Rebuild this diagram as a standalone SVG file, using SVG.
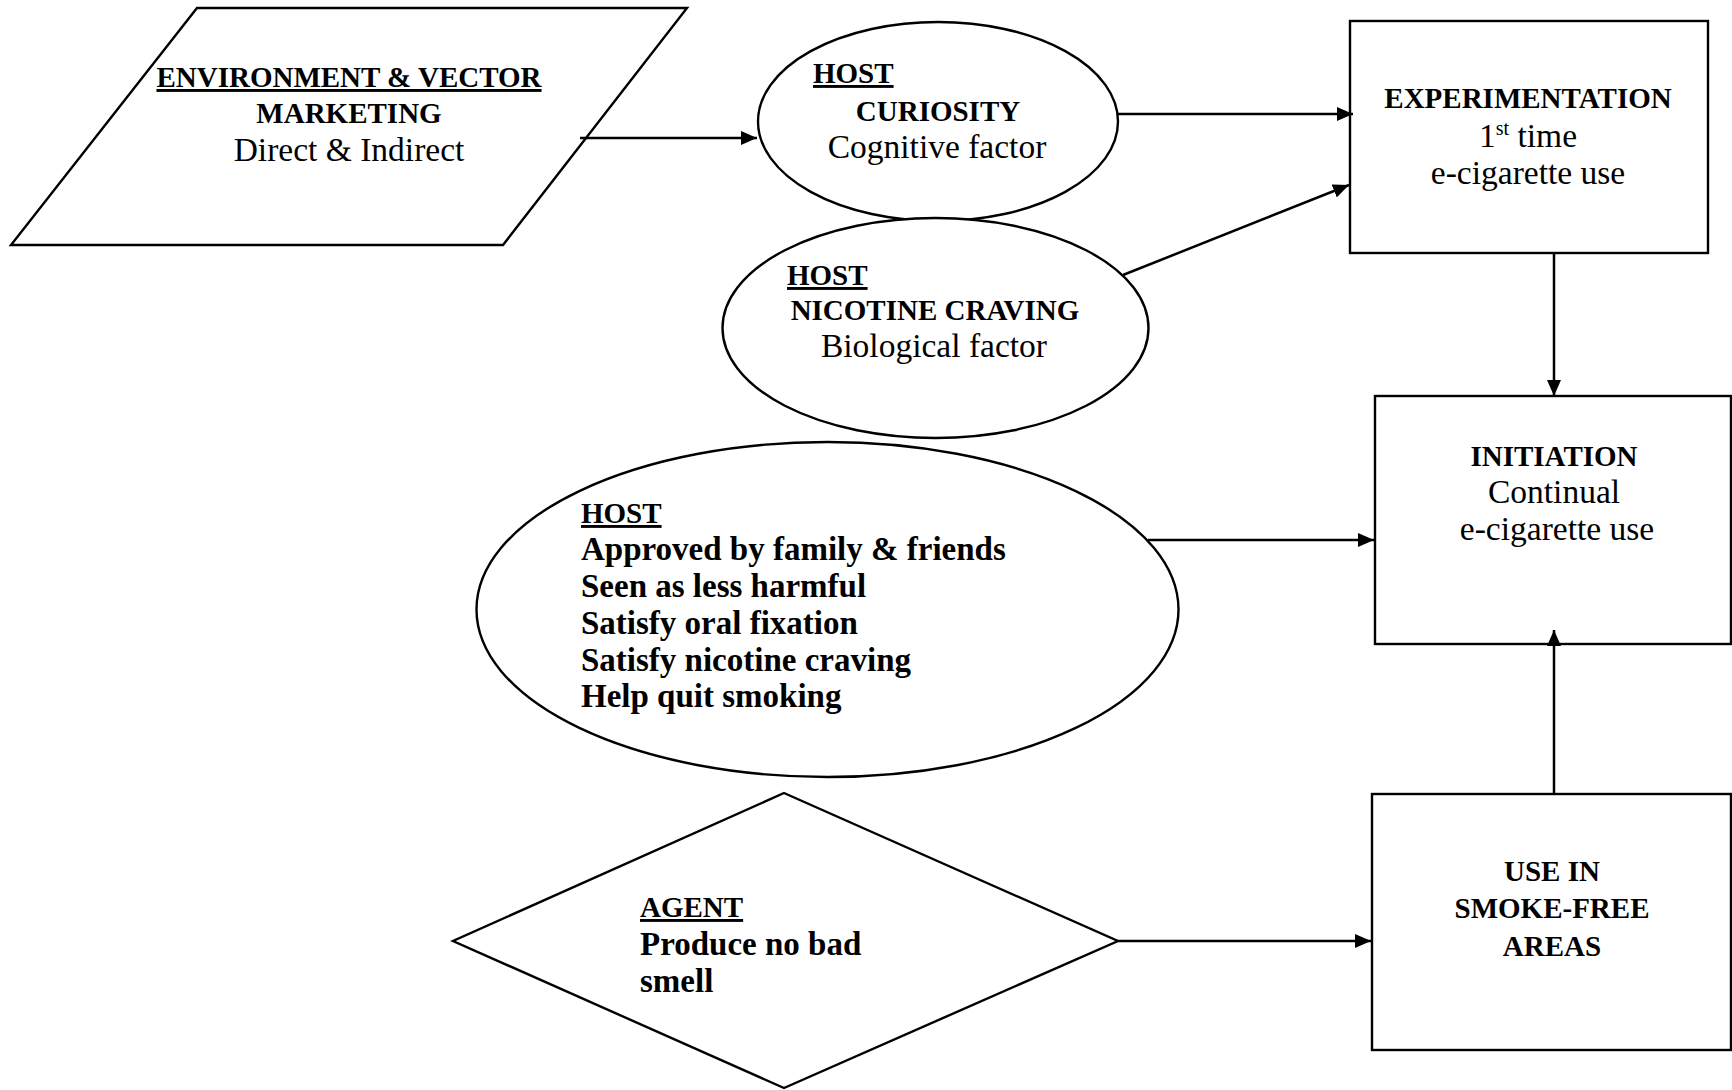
<svg xmlns="http://www.w3.org/2000/svg" width="1732" height="1090" viewBox="0 0 1732 1090">
<style>
  .shape{fill:#fff;stroke:#000;stroke-width:2.4}
  .conn{fill:none;stroke:#000;stroke-width:2.5}
  text{font-family:"Liberation Serif","Times New Roman",serif;fill:#000}
  .bc{font-weight:bold;font-size:29px}
  .bm{font-weight:bold;font-size:33px}
  .r{font-size:33.5px}
  .u{text-decoration:underline}
  .mid{text-anchor:middle}
</style>
<defs>
  <marker id="arr" markerUnits="userSpaceOnUse" markerWidth="18" markerHeight="14" refX="16" refY="7" orient="auto">
    <path d="M0,0 L16,7 L0,14 Z" fill="#000"/>
  </marker>
</defs>
<rect width="1732" height="1090" fill="#fff"/>

<g id="env">
  <polygon class="shape" points="197,8 687,8 503,245 11,245"/>
  <text class="bc u mid" x="349" y="87">ENVIRONMENT &amp; VECTOR</text>
  <text class="bc mid" x="349" y="123">MARKETING</text>
  <text class="r mid" x="349" y="161">Direct &amp; Indirect</text>
</g>

<g id="curiosity">
  <ellipse class="shape" cx="938" cy="121.5" rx="180" ry="99.5"/>
  <text class="bc u" x="813" y="83">HOST</text>
  <text class="bc mid" x="938" y="121">CURIOSITY</text>
  <text class="r mid" x="937" y="158">Cognitive factor</text>
</g>

<g id="nicotine">
  <ellipse class="shape" cx="935.5" cy="328" rx="213" ry="110"/>
  <text class="bc u" x="787" y="285">HOST</text>
  <text class="bc mid" x="935" y="320">NICOTINE CRAVING</text>
  <text class="r mid" x="934" y="357">Biological factor</text>
</g>

<g id="host-reasons">
  <ellipse class="shape" cx="827.5" cy="609.5" rx="351" ry="167.5"/>
  <text class="bc u" x="581" y="523">HOST</text>
  <text class="bm" x="581" y="560">Approved by family &amp; friends</text>
  <text class="bm" x="581" y="597">Seen as less harmful</text>
  <text class="bm" x="581" y="634">Satisfy oral fixation</text>
  <text class="bm" x="581" y="671">Satisfy nicotine craving</text>
  <text class="bm" x="581" y="707">Help quit smoking</text>
</g>

<g id="agent">
  <polygon class="shape" points="784,793 1118,941 784,1088 453,941"/>
  <text class="bc u" x="640" y="917">AGENT</text>
  <text class="bm" x="640" y="955">Produce no bad</text>
  <text class="bm" x="640" y="992">smell</text>
</g>

<g id="experimentation">
  <rect class="shape" x="1350" y="21" width="358" height="232"/>
  <text class="bc mid" x="1528" y="108">EXPERIMENTATION</text>
  <text class="r mid" x="1528" y="147">1<tspan font-size="20" dy="-12">st</tspan><tspan dy="12"> time</tspan></text>
  <text class="r mid" x="1528" y="184">e-cigarette use</text>
</g>

<g id="initiation">
  <rect class="shape" x="1375" y="396" width="356" height="248"/>
  <text class="bc mid" x="1554" y="466">INITIATION</text>
  <text class="r mid" x="1554" y="503">Continual</text>
  <text class="r mid" x="1557" y="540">e-cigarette use</text>
</g>

<g id="smoke-free">
  <rect class="shape" x="1372" y="794" width="359" height="256"/>
  <text class="bc mid" x="1552" y="881">USE IN</text>
  <text class="bc mid" x="1552" y="918">SMOKE-FREE</text>
  <text class="bc mid" x="1552" y="956">AREAS</text>
</g>

<g id="connectors">
  <line class="conn" x1="580" y1="138" x2="757" y2="138" marker-end="url(#arr)"/>
  <line class="conn" x1="1118" y1="114" x2="1353" y2="114" marker-end="url(#arr)"/>
  <line class="conn" x1="1123" y1="275" x2="1349" y2="185" marker-end="url(#arr)"/>
  <line class="conn" x1="1554" y1="253" x2="1554" y2="396" marker-end="url(#arr)"/>
  <line class="conn" x1="1148" y1="540" x2="1374" y2="540" marker-end="url(#arr)"/>
  <line class="conn" x1="1118" y1="941" x2="1371" y2="941" marker-end="url(#arr)"/>
  <line class="conn" x1="1554" y1="794" x2="1554" y2="630" marker-end="url(#arr)"/>
</g>
</svg>
